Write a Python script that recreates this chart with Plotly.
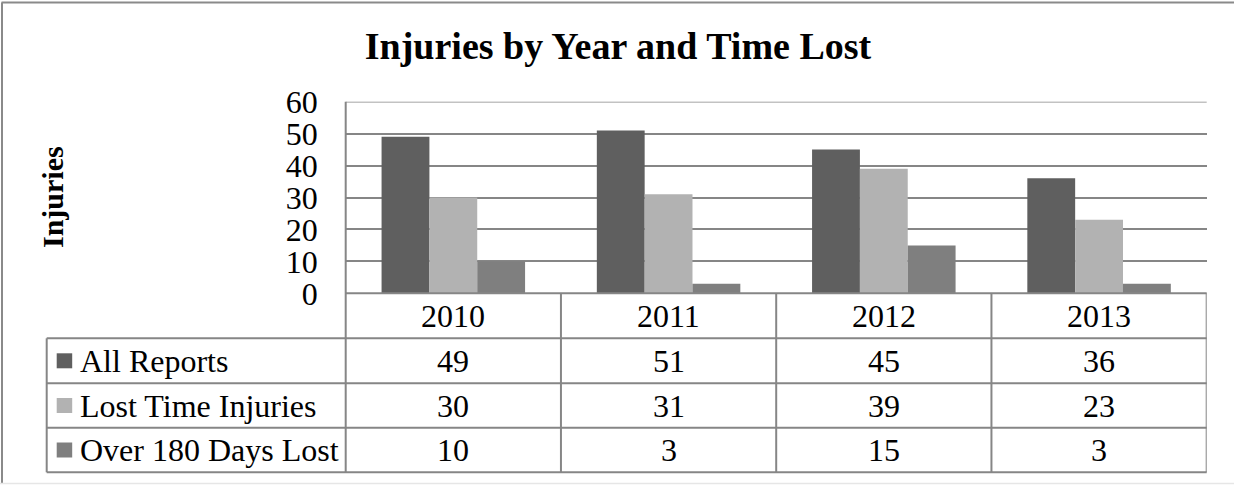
import plotly.graph_objects as go

# Chart data
years = ["2010", "2011", "2012", "2013"]
series_names = ["All Reports", "Lost Time Injuries", "Over 180 Days Lost"]
all_reports = [49, 51, 45, 36]
lost_time = [30, 31, 39, 23]
over_180 = [10, 3, 15, 3]
y_ticks = [0, 10, 20, 30, 40, 50, 60]

W, H = 1234, 485
FONT = "Liberation Serif, Times New Roman, serif"
LINE = "#868686"
colors = ["#5f5f5f", "#b2b2b2", "#7f7f7f"]
series_values = [all_reports, lost_time, over_180]
xpos = list(range(len(years)))  # one slot per year on the category axis


def px(x):
    return x / W


def py(y):
    return 1 - y / H


# plot area in pixels
PL, PR, PT, PB = 345.7, 1206.7, 101.7, 293.3
# table row boundaries (pixels from top)
rows = [293.3, 338.3, 383.3, 427.7, 472.3]
LEG_L = 46.7
BODY = 32

fig = go.Figure()
for name, vals, c in zip(series_names, series_values, colors):
    fig.add_trace(go.Bar(x=xpos, y=vals, name=name, text=None, hovertext=years,
                         marker=dict(color=c, line=dict(width=0)), showlegend=False))

shapes = []
# outer frame (top, left, bottom)
shapes.append(dict(type="line", xref="paper", yref="paper", x0=px(1.5), x1=1, y0=py(2.5), y1=py(2.5),
                   line=dict(color="#8a8a8a", width=2)))
shapes.append(dict(type="line", xref="paper", yref="paper", x0=px(2), x1=px(2), y0=py(2.5), y1=py(483.5),
                   line=dict(color="#8a8a8a", width=2)))
shapes.append(dict(type="line", xref="paper", yref="paper", x0=0, x1=1, y0=py(483.5), y1=py(483.5),
                   line=dict(color="#e6e6e6", width=1.5)))

# top gridline of the value axis
shapes.append(dict(type="line", xref="paper", yref="y", x0=px(PL), x1=px(PR), y0=y_ticks[-1], y1=y_ticks[-1],
                   line=dict(color=LINE, width=1.6), layer="below"))

# table horizontal rules
shapes.append(dict(type="line", xref="paper", yref="paper", x0=px(PL), x1=px(PR), y0=py(rows[0]), y1=py(rows[0]),
                   line=dict(color=LINE, width=2)))
for r in rows[1:]:
    shapes.append(dict(type="line", xref="paper", yref="paper", x0=px(LEG_L), x1=px(PR), y0=py(r), y1=py(r),
                       line=dict(color=LINE, width=2)))
# legend column left edge
shapes.append(dict(type="line", xref="paper", yref="paper", x0=px(LEG_L), x1=px(LEG_L),
                   y0=py(rows[1]), y1=py(rows[-1]), line=dict(color=LINE, width=2)))
# value axis line running down through the table
shapes.append(dict(type="line", xref="paper", yref="paper", x0=px(PL), x1=px(PL),
                   y0=py(PT), y1=py(rows[-1]), line=dict(color=LINE, width=2)))
# category dividers
for k in xpos:
    shapes.append(dict(type="line", xref="x", yref="paper", x0=k + 0.5, x1=k + 0.5,
                       y0=py(rows[0]), y1=py(rows[-1]), line=dict(color=LINE, width=2)))

annotations = []
# year header row
hc = (rows[0] + rows[1]) / 2
for k, yr in zip(xpos, years):
    annotations.append(dict(x=k, xref="x", y=py(hc), yref="paper", text=yr, showarrow=False,
                            xanchor="center", yanchor="middle", font=dict(family=FONT, size=BODY, color="#000")))
# data rows with legend keys
for i, (name, vals, c) in enumerate(zip(series_names, series_values, colors)):
    cy = (rows[i + 1] + rows[i + 2]) / 2
    shapes.append(dict(type="rect", xref="paper", yref="paper", x0=px(56.7), x1=px(72.2),
                       y0=py(cy - 7.5), y1=py(cy + 7.5), fillcolor=c, line=dict(width=0)))
    annotations.append(dict(x=px(78), xref="paper", y=py(cy), yref="paper", text=name, showarrow=False,
                            xanchor="left", yanchor="middle", font=dict(family=FONT, size=BODY, color="#000")))
    for k, v in zip(xpos, vals):
        annotations.append(dict(x=k, xref="x", y=py(cy), yref="paper", text=str(v), showarrow=False,
                                xanchor="center", yanchor="middle",
                                font=dict(family=FONT, size=BODY, color="#000")))

# vertical axis title
annotations.append(dict(x=px(52), xref="paper", y=py(197), yref="paper", text="<b>Injuries</b>",
                        textangle=-90, showarrow=False, xanchor="center", yanchor="middle",
                        font=dict(family=FONT, size=30, color="#000")))

fig.update_layout(
    width=W, height=H,
    margin=dict(l=0, r=0, t=0, b=0),
    paper_bgcolor="white", plot_bgcolor="white",
    barmode="group", bargap=1 / 3, bargroupgap=0,
    title=dict(text="<b>Injuries by Year and Time Lost</b>", x=px(618), xanchor="center",
               y=py(46), yanchor="middle", font=dict(family=FONT, size=38, color="#000")),
    xaxis=dict(range=[-0.5, len(years) - 0.5], domain=[px(PL), px(PR)], showticklabels=False,
               showgrid=False, showline=False, zeroline=False, ticks="", automargin=False),
    yaxis=dict(domain=[py(PB), py(PT)], range=[0, 60], tickvals=y_ticks, showgrid=True,
               gridcolor=LINE, gridwidth=1.6, zeroline=False, showline=False, ticks="",
               automargin=False, ticklabelstandoff=27,
               tickfont=dict(family=FONT, size=BODY, color="#000")),
    shapes=shapes,
    annotations=annotations,
)

fig.write_html("out.html")
